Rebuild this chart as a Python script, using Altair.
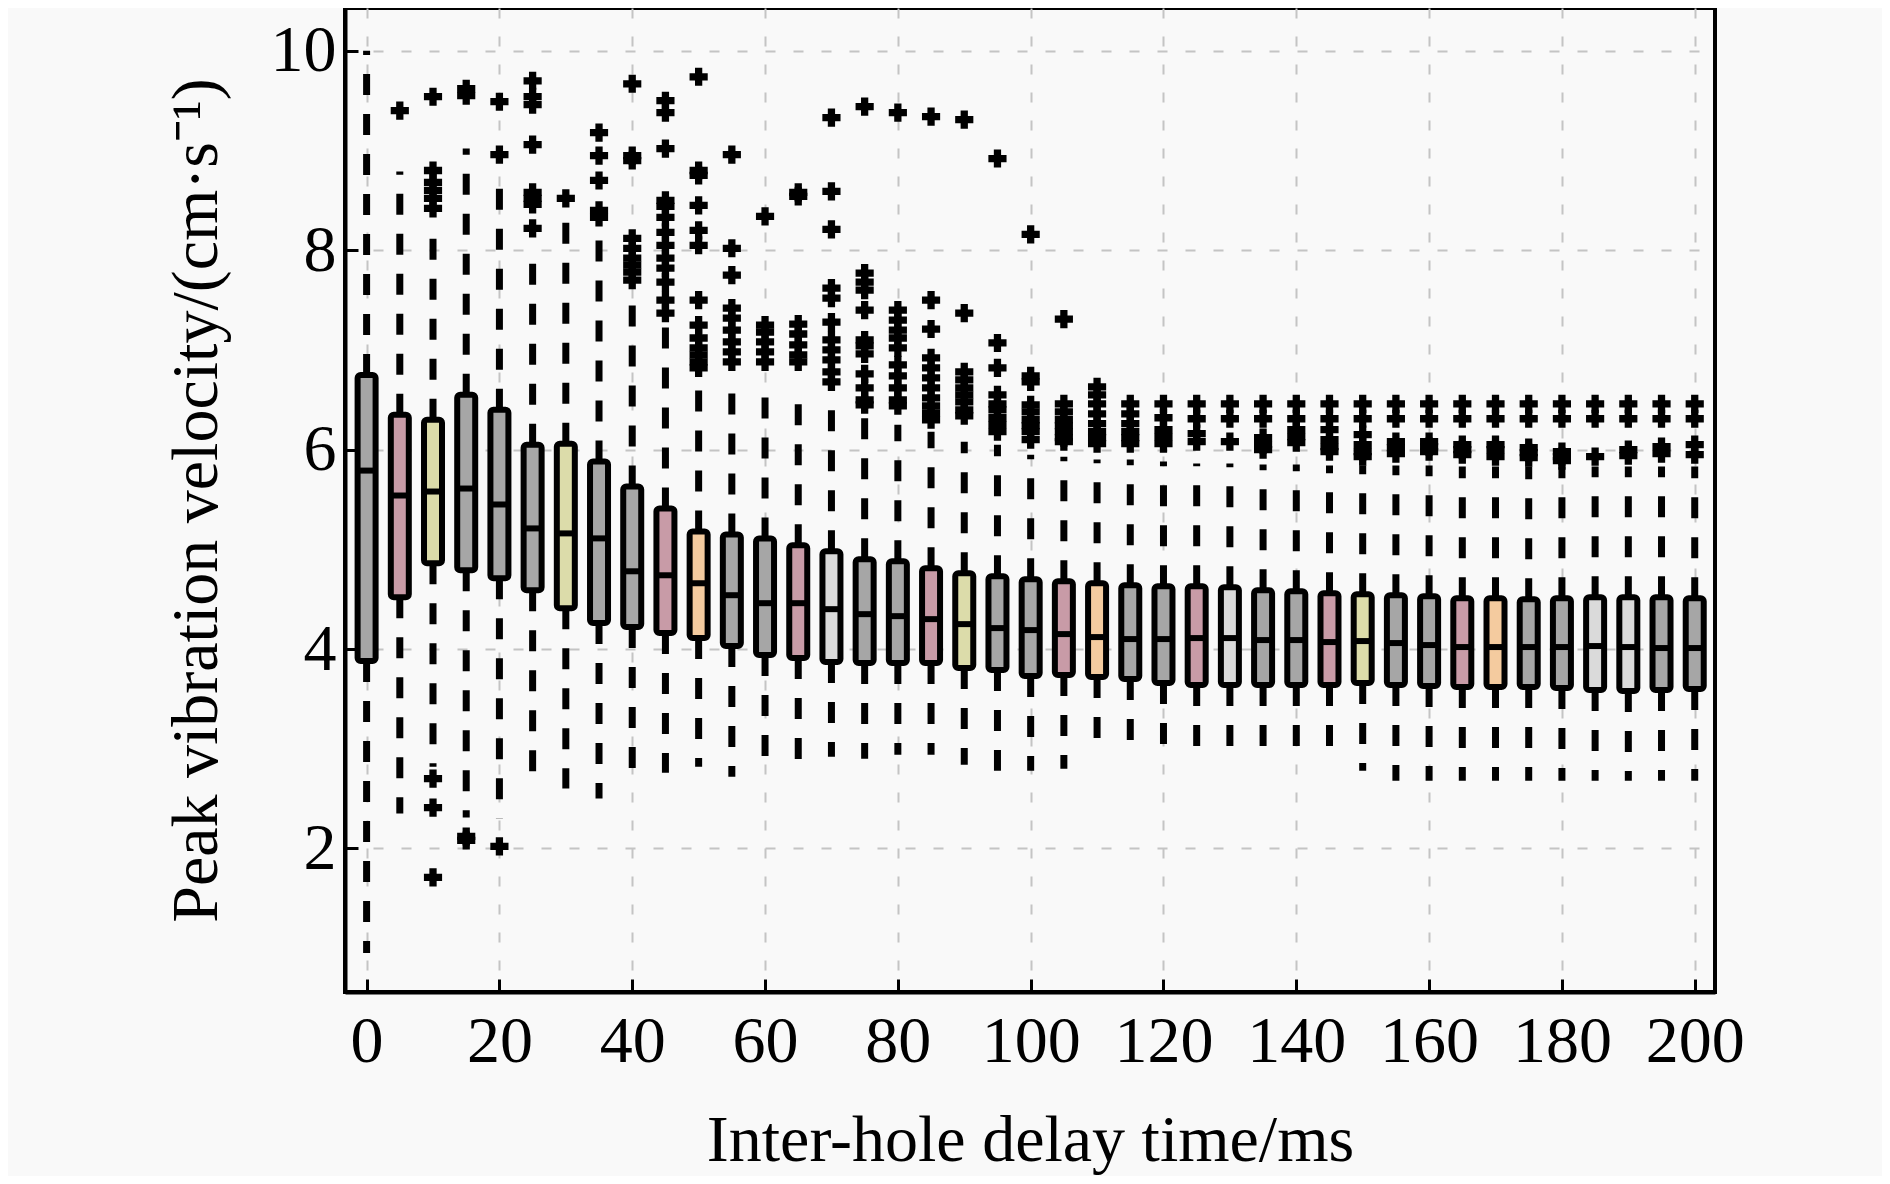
import altair as alt
import pandas as pd

delay = [0, 5, 10, 15, 20, 25, 30, 35, 40, 45, 50, 55, 60, 65, 70, 75, 80, 85, 90, 95, 100,
         105, 110, 115, 120, 125, 130, 135, 140, 145, 150, 155, 160, 165, 170, 175, 180, 185, 190, 195, 200]

q1 = [3.88, 4.52, 4.86, 4.79, 4.71, 4.59, 4.41, 4.26, 4.22, 4.16, 4.11, 4.03, 3.94, 3.91, 3.87, 3.86, 3.86, 3.86, 3.81, 3.79, 3.73,
      3.74, 3.72, 3.70, 3.66, 3.64, 3.64, 3.64, 3.64, 3.64, 3.66, 3.64, 3.63, 3.62, 3.62, 3.62, 3.61, 3.59, 3.58, 3.59, 3.60]
median = [5.79, 5.54, 5.58, 5.61, 5.45, 5.21, 5.16, 5.11, 4.78, 4.74, 4.66, 4.54, 4.46, 4.46, 4.40, 4.35, 4.33, 4.30, 4.25, 4.21, 4.19,
          4.15, 4.12, 4.10, 4.10, 4.11, 4.11, 4.09, 4.09, 4.07, 4.08, 4.06, 4.04, 4.02, 4.02, 4.02, 4.02, 4.03, 4.02, 4.01, 4.01]
q3 = [6.75, 6.35, 6.30, 6.55, 6.40, 6.05, 6.06, 5.88, 5.63, 5.41, 5.18, 5.15, 5.11, 5.04, 4.98, 4.90, 4.88, 4.81, 4.76, 4.73, 4.70,
      4.68, 4.66, 4.64, 4.63, 4.63, 4.62, 4.59, 4.58, 4.56, 4.55, 4.54, 4.53, 4.51, 4.51, 4.50, 4.51, 4.52, 4.52, 4.52, 4.51]
whisker_low = [0.95, 2.35, 2.82, 2.31, 2.30, 2.64, 2.60, 2.50, 2.72, 2.76, 2.82, 2.72, 2.74, 2.74, 2.92, 2.90, 2.94, 2.94, 2.84, 2.78, 2.78,
               2.80, 2.93, 2.93, 2.93, 2.93, 2.93, 2.93, 2.93, 2.90, 2.78, 2.68, 2.68, 2.68, 2.68, 2.68, 2.68, 2.68, 2.68, 2.68, 2.68]
whisker_high = [10.0, 8.79, 8.13, 9.02, 8.63, 7.95, 8.30, 8.10, 7.57, 7.25, 6.68, 6.60, 6.60, 6.62, 6.42, 6.36, 6.25, 6.18, 6.08, 6.05, 5.95,
                5.93, 5.90, 5.90, 5.88, 5.86, 5.86, 5.85, 5.85, 5.84, 5.84, 5.84, 5.84, 5.83, 5.83, 5.83, 5.83, 5.83, 5.83, 5.83, 5.83]

box_group = ["gray", "pink", "yellow", "gray", "gray", "gray", "yellow", "gray", "gray", "pink", "orange",
             "gray", "gray", "pink", "light", "gray", "gray", "pink", "yellow", "gray", "gray",
             "pink", "orange", "gray", "gray", "pink", "light", "gray", "gray", "pink", "yellow",
             "gray", "gray", "pink", "orange", "gray", "gray", "light", "light", "gray", "gray"]

outliers = [
    [],
    [9.40],
    [9.54, 8.80, 8.68, 8.60, 8.52, 8.42, 2.70, 2.41, 1.71],
    [9.62, 9.55, 2.12, 2.08],
    [9.49, 8.96, 2.02],
    [9.70, 9.54, 9.46, 9.06, 8.58, 8.52, 8.46, 8.22],
    [8.52],
    [9.18, 8.95, 8.70, 8.40, 8.33],
    [9.67, 8.95, 8.90, 8.12, 8.02, 7.92, 7.85, 7.78, 7.70],
    [9.50, 9.38, 9.02, 8.50, 8.44, 8.33, 8.18, 8.05, 7.92, 7.82, 7.68, 7.50, 7.37],
    [9.74, 8.80, 8.75, 8.45, 8.20, 8.05, 7.50, 7.25, 7.12, 7.02, 6.95, 6.88, 6.82],
    [8.96, 8.02, 7.75, 7.42, 7.32, 7.20, 7.08, 6.98, 6.88],
    [8.34, 7.25, 7.18, 7.08, 6.98, 6.88],
    [8.58, 8.54, 7.26, 7.16, 7.05, 6.95, 6.88],
    [9.33, 8.59, 8.21, 7.62, 7.52, 7.28, 7.10, 7.00, 6.90, 6.78, 6.68],
    [9.44, 7.77, 7.68, 7.60, 7.40, 7.10, 7.04, 6.96, 6.76, 6.62, 6.50, 6.45],
    [9.38, 7.40, 7.30, 7.20, 7.12, 7.02, 6.85, 6.74, 6.62, 6.50, 6.44],
    [9.34, 7.50, 7.21, 6.92, 6.82, 6.72, 6.62, 6.52, 6.44, 6.37, 6.30],
    [9.31, 7.37, 6.78, 6.70, 6.62, 6.55, 6.48, 6.40, 6.34],
    [8.92, 7.07, 6.82, 6.55, 6.46, 6.40, 6.32, 6.25, 6.18],
    [8.16, 6.74, 6.68, 6.45, 6.38, 6.30, 6.24, 6.18, 6.10],
    [7.31, 6.46, 6.38, 6.30, 6.24, 6.18, 6.12, 6.08],
    [6.63, 6.55, 6.46, 6.36, 6.26, 6.18, 6.12, 6.06],
    [6.46, 6.36, 6.26, 6.18, 6.12, 6.06],
    [6.46, 6.32, 6.20, 6.13, 6.06],
    [6.46, 6.31, 6.16, 6.08],
    [6.46, 6.31, 6.08],
    [6.46, 6.31, 6.12, 6.05, 6.00],
    [6.46, 6.31, 6.20, 6.13, 6.07],
    [6.46, 6.31, 6.20, 6.10, 6.03, 5.98],
    [6.46, 6.31, 6.15, 6.05, 5.98, 5.93],
    [6.46, 6.31, 6.08, 6.02, 5.96],
    [6.46, 6.31, 6.08, 6.03, 5.98],
    [6.46, 6.31, 6.05, 6.00, 5.95],
    [6.46, 6.31, 6.05, 6.00, 5.93],
    [6.46, 6.31, 6.02, 5.97, 5.92],
    [6.46, 6.31, 5.98, 5.93, 5.89],
    [6.46, 6.31, 5.93],
    [6.46, 6.31, 6.00, 5.94],
    [6.46, 6.31, 6.03, 5.96],
    [6.46, 6.31, 6.05, 5.95],
]

x_ticks = [0, 20, 40, 60, 80, 100, 120, 140, 160, 180, 200]
y_ticks = [2, 4, 6, 8, 10]
x_title = "Inter-hole delay time/ms"
y_title = "Peak vibration velocity/(cm\u00b7s\u207b\u00b9)"

group_names = ["gray", "pink", "yellow", "orange", "light"]
group_colors = ["#a6a6a6", "#c89ba7", "#dcdcaa", "#f4cb9f", "#dadada"]

box_df = pd.DataFrame({
    "delay": delay, "q1": q1, "median": median, "q3": q3,
    "lo": whisker_low, "hi": whisker_high, "grp": box_group,
})
out_df = pd.DataFrame(
    [{"delay": d, "v": v} for d, vals in zip(delay, outliers) for v in vals]
)

FONT = "Liberation Serif"
xscale = alt.Scale(domain=[-2.5, 202.3], nice=False, zero=False)
yscale = alt.Scale(domain=[0.56, 10.43], nice=False, zero=False)

xaxis = alt.Axis(values=x_ticks, title=x_title, format="d", grid=True,
                 tickSize={"expr": "-13"}, tickWidth=3, tickColor="black",
                 labelPadding=30, titlePadding=34)
yaxis = alt.Axis(values=y_ticks, title=y_title, format="d", grid=True,
                 tickSize={"expr": "-13"}, tickWidth=3, tickColor="black",
                 labelPadding=22, titlePadding=40)

X = alt.X("delay:Q", scale=xscale, axis=xaxis)

base = alt.Chart(box_df)

upper = base.mark_rule(color="black", strokeWidth=7, strokeDash=[21, 19], strokeCap="butt").encode(
    x=X, y=alt.Y("q3:Q", scale=yscale, axis=yaxis), y2="hi:Q")
lower = base.mark_rule(color="black", strokeWidth=7, strokeDash=[21, 19], strokeCap="butt").encode(
    x=X, y=alt.Y("q1:Q", scale=yscale, axis=yaxis), y2="lo:Q")
boxes = base.mark_bar(size=18, stroke="black", strokeWidth=6, cornerRadius=3).encode(
    x=X, y=alt.Y("q1:Q", scale=yscale, axis=yaxis), y2="q3:Q",
    fill=alt.Fill("grp:N", scale=alt.Scale(domain=group_names, range=group_colors), legend=None))
medians = base.mark_tick(orient="horizontal", size=20, thickness=6, color="black", opacity=1).encode(
    x=X, y=alt.Y("median:Q", scale=yscale, axis=yaxis))
points = alt.Chart(out_df).mark_point(shape="cross", filled=True, size=330, color="black", opacity=1).encode(
    x=X, y=alt.Y("v:Q", scale=yscale, axis=yaxis))

chart = alt.layer(upper, lower, boxes, medians, points).properties(
    width=1370, height=984,
    autosize=alt.AutoSizeParams(type="none"),
    padding={"left": 337, "top": 0, "right": 167, "bottom": 184},
    background="#f9f9f9",
).configure_view(
    stroke="black", strokeWidth=4,
).configure_axis(
    labelFont=FONT, labelFontSize=66, labelColor="black",
    titleFont=FONT, titleFontSize=66, titleFontWeight="normal", titleColor="black",
    domainColor="black", domainWidth=4,
    gridColor="#c4c4c4", gridDash=[10, 18], gridWidth=2,
)

chart.save("out.html", embed_options={"renderer": "svg", "actions": False})
